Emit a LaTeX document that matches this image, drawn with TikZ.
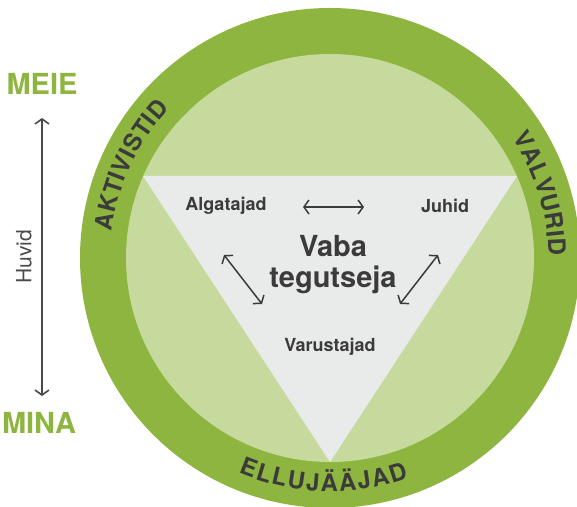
\documentclass[tikz,border=0pt]{standalone}
\usepackage{fontspec}
\setmainfont{TeX Gyre Heros}
\usetikzlibrary{arrows.meta,calc}
\definecolor{ringgreen}{HTML}{8DB53F}
\definecolor{lightgreen}{HTML}{C6DA9E}
\definecolor{trigray}{HTML}{E9EAEA}
\definecolor{darktext}{HTML}{3B3B3B}
\definecolor{axisgray}{HTML}{4A4A4A}
\def\ringF{24}
\def\ringT{1.1}
\begin{document}
\begin{tikzpicture}[x=1pt,y=1pt,
  ringletter/.style={font=\fontsize{24}{24}\selectfont\bfseries, text=darktext, inner sep=0pt, anchor=base},
  rolelabel/.style={font=\fontsize{18}{18}\selectfont\bfseries, text=darktext, inner sep=0pt},
  centrelabel/.style={font=\fontsize{29}{31}\selectfont\bfseries, text=darktext, inner sep=0pt, align=center},
  sidelabel/.style={font=\fontsize{29}{29}\selectfont\bfseries, text=ringgreen, inner sep=0pt, anchor=base},
  axislabel/.style={font=\fontsize{21}{21}\selectfont, text=axisgray, inner sep=0pt, rotate=90},
  relarrow/.style={{Straight Barb[length=5pt,width=14pt]}-{Straight Barb[length=5pt,width=14pt]}, line width=1.5pt, draw=darktext},
  axisarrow/.style={{Straight Barb[length=5pt,width=14pt]}-{Straight Barb[length=5pt,width=14pt]}, line width=1.6pt, draw=axisgray},
]
\useasboundingbox (0,0) rectangle (577,506);
\coordinate (C) at (330,248);
% circle and ring
\fill[ringgreen] (C) circle[radius=250];
\fill[lightgreen] (C) circle[radius=204];
% triangle
\coordinate (tl) at (143,330);
\coordinate (tr) at (517,330);
\coordinate (tb) at (330,44);
\fill[trigray] (tl) -- (tr) -- (tb) -- cycle;
% role labels
\node[rolelabel] (alg) at (226,300) {Algatajad};
\node[rolelabel] (juh) at (445,300) {Juhid};
\node[rolelabel] (var) at (330,159) {Varustajad};
\node[centrelabel] (vaba) at (333,241) {Vaba\\tegutseja};
% relation arrows
\coordinate (h1) at (303,299);
\coordinate (h2) at (364,299);
\coordinate (l1) at (224,251);
\coordinate (l2) at (262,202);
\coordinate (r1) at (438,251);
\coordinate (r2) at (400,202);
\draw[relarrow] (h1) -- (h2);
\draw[relarrow] (l1) -- (l2);
\draw[relarrow] (r1) -- (r2);
% ring texts (letter / centre offset in em / tracking index)
\foreach \l/\c/\k [count=\i] in {A/-2.417/-4.5,K/-1.695/-3.5,T/-1.0285/-2.5,I/-0.584/-1.5,V/-0.1115/-0.5,I/0.361/0.5,S/0.8335/1.5,T/1.4725/2.5,I/1.917/3.5,D/2.417/4.5}{
  \pgfmathsetmacro\ang{155-(\c*\ringF+\k*\ringT)*0.25063}
  \node[ringletter, rotate=\ang-90] (akt\i) at ($(C)+(\ang:219.5)$) {\l};
}
\foreach \l/\c/\k [count=\i] in {V/-2.222/-3.5,A/-1.5275/-2.5,L/-0.861/-1.5,V/-0.222/-0.5,U/0.4725/0.5,R/1.1945/1.5,I/1.6945/2.5,D/2.1945/3.5}{
  \pgfmathsetmacro\ang{17-(\c*\ringF+\k*\ringT)*0.2524}
  \node[ringletter, rotate=\ang-90] (val\i) at ($(C)+(\ang:218.5)$) {\l};
}
\foreach \l/\c/\k [count=\i] in {E/-2.972/-4.5,L/-2.333/-3.5,L/-1.722/-2.5,U/-1.0555/-1.5,J/-0.4165/-0.5,Ä/0.2225/0.5,Ä/0.9445/1.5,J/1.5835/2.5,A/2.2225/3.5,D/2.9445/4.5}{
  \pgfmathsetmacro\ang{268.3+(\c*\ringF+\k*\ringT)*0.25465}
  \node[ringletter, rotate=\ang+90] (ell\i) at ($(C)+(\ang:233.5)$) {\l};
}
% side axis
\node[sidelabel] (meie) at (42,411) {MEIE};
\node[sidelabel] (mina) at (39,73) {MINA};
\coordinate (axtop) at (42,388);
\coordinate (axbot) at (42,110);
\draw[axisarrow] (axbot) -- (axtop);
\node[axislabel] (huvid) at (24,249) {Huvid};
\end{tikzpicture}
\end{document}
